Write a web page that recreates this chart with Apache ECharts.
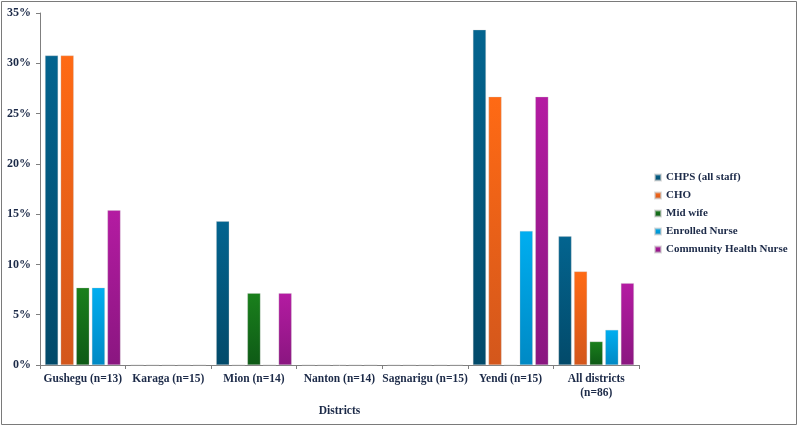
<!DOCTYPE html>
<html><head><meta charset="utf-8">
<script src="https://cdn.jsdelivr.net/npm/echarts@6/dist/echarts.min.js"></script>
<style>html,body{margin:0;padding:0;background:#fff}#c{width:798px;height:426px}</style>
</head><body><div id="c"></div>
<script>
const categories = ['Gushegu (n=13)', 'Karaga (n=15)', 'Mion (n=14)', 'Nanton (n=14)', 'Sagnarigu (n=15)', 'Yendi (n=15)', 'All districts\n(n=86)'];
const seriesNames = ['CHPS (all staff)', 'CHO', 'Mid wife', 'Enrolled Nurse', 'Community Health Nurse'];
const chps = [30.77, 0, 14.29, 0, 0, 33.33, 12.79];
const cho = [30.77, 0, 0, 0, 0, 26.67, 9.30];
const midwife = [7.69, 0, 7.14, 0, 0, 0, 2.33];
const enrolled = [7.69, 0, 0, 0, 0, 13.33, 3.49];
const chn = [15.38, 0, 7.14, 0, 0, 26.67, 8.14];
const yTicks = [0, 5, 10, 15, 20, 25, 30, 35];

const values = [chps, cho, midwife, enrolled, chn];
const colors = [['#03648f', '#024a6a'], ['#ff6a14', '#d3571c'], ['#1a801c', '#0e5a16'], ['#00aef0', '#0089c4'], ['#b41ba2', '#8a1680']];
const font = '"Liberation Serif", "Times New Roman", serif';
const txt = '#1c2a48';

const chart = echarts.init(document.getElementById('c'), null, {renderer: 'canvas'});
chart.setOption({
  animation: false,
  backgroundColor: '#fff',
  graphic: [{type: 'rect', shape: {x: 1.5, y: 1.5, width: 795, height: 423}, style: {fill: 'none', stroke: '#7a7a7a', lineWidth: 1}, silent: true}],
  grid: {left: 40, right: 159, top: 13, bottom: 61},
  legend: {
    orient: 'vertical', left: 649, top: 167, itemWidth: 6, itemHeight: 6, itemGap: 7,
    icon: 'rect',
    textStyle: {fontFamily: font, fontWeight: 'bold', fontSize: 11, color: txt},
    data: seriesNames
  },
  xAxis: {
    type: 'category', data: categories,
    name: 'Districts', nameLocation: 'middle', nameGap: 35,
    nameTextStyle: {fontFamily: font, fontWeight: 'bold', fontSize: 11.5, color: txt},
    axisLine: {lineStyle: {color: '#7f7f7f', width: 1}},
    axisTick: {show: true, alignWithLabel: false, length: 4, lineStyle: {color: '#7f7f7f'}},
    axisLabel: {interval: 0, fontFamily: font, fontWeight: 'bold', fontSize: 11.5, color: txt, margin: 7, lineHeight: 14}
  },
  yAxis: {
    type: 'value', min: yTicks[0], max: yTicks[yTicks.length - 1], interval: 5,
    axisLine: {show: true, lineStyle: {color: '#7f7f7f', width: 1}},
    axisTick: {show: true, length: 4, inside: false, lineStyle: {color: '#7f7f7f'}},
    splitLine: {show: false},
    axisLabel: {formatter: v => v + '%', fontFamily: font, fontWeight: 'bold', fontSize: 12, color: txt, margin: 9}
  },
  series: values.map((arr, i) => ({
    name: seriesNames[i], type: 'bar', data: arr,
    barWidth: 13, barGap: '20%',
    itemStyle: {
      color: new echarts.graphic.LinearGradient(0, 0, 0, 1, [{offset: 0, color: colors[i][0]}, {offset: 1, color: colors[i][1]}]),
      borderColor: 'rgba(200,200,200,0.6)', borderWidth: 0.5
    }
  }))
});
</script></body></html>
